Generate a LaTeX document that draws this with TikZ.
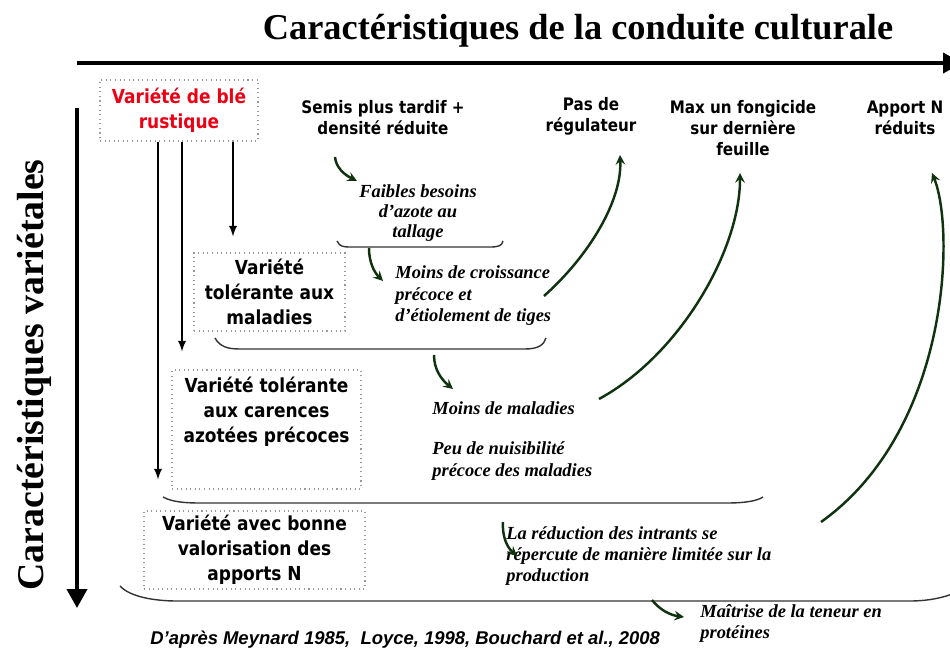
\documentclass[tikz,border=0pt]{standalone}
\usepackage{fontspec}
\setmainfont{Liberation Serif}
\newfontfamily\boxfont{DejaVu Sans}[FakeStretch=0.88]
\newfontfamily\reffont{Liberation Sans}
\usetikzlibrary{arrows, arrows.meta}
\definecolor{vertfonce}{RGB}{15,50,15}
\definecolor{rougeble}{RGB}{235,0,20}
\tikzstyle{cadre} = [rectangle, draw=gray!80, dotted, line width=0.6pt, inner sep=0pt]
\tikzstyle{variete} = [align=center, font=\boxfont\bfseries\fontsize{11}{14.3}\selectfont]
\tikzstyle{conduite} = [align=center, inner sep=0pt, font=\boxfont\bfseries\fontsize{9.8}{12}\selectfont]
\tikzstyle{effet} = [align=left, inner sep=0pt, font=\bfseries\itshape\fontsize{10.5}{12.2}\selectfont]
\tikzstyle{axe} = [line width=2.3pt, -{Triangle[length=0.38cm,width=0.4cm]}]
\tikzstyle{descente} = [line width=1.1pt, ->, >=latex]
\tikzstyle{fleche} = [line width=1.4pt, draw=vertfonce, ->, >=stealth]
\tikzstyle{accolade} = [line width=0.8pt, draw=black!80]

\begin{document}
\begin{tikzpicture}[x=0.02cm, y=-0.02cm]
    \useasboundingbox (0,0) rectangle (950,651);

    % axes
    \node (titre) [font=\bfseries\fontsize{20.7}{24}\selectfont, anchor=base] at (578,40) {Caractéristiques de la conduite culturale};
    \node (vtitre) [font=\bfseries\fontsize{21.5}{24}\selectfont, rotate=90, anchor=base] at (43,375) {Caractéristiques variétales};
    \coordinate (hdeb) at (77,63);
    \coordinate (hfin) at (962,63);
    \coordinate (vdeb) at (77,108);
    \coordinate (vfin) at (77,608);
    \draw [axe] (hdeb) -- (hfin);
    \draw [axe] (vdeb) -- (vfin);

    % varietes
    \node (rustique) [cadre, variete, text=rougeble, minimum width=3.16cm, minimum height=1.22cm] at (179,110.5) {Variété de blé\\rustique};
    \node (maladies) [cadre, variete, minimum width=3.02cm, minimum height=1.56cm] at (269.5,292) {Variété\\tolérante aux\\maladies};
    \node (carences) [cadre, minimum width=3.78cm, minimum height=2.38cm] at (266.5,429.5) {};
    \node (carencestxt) [variete, inner sep=0pt, anchor=north] at ([shift={(0,7)}]carences.north) {Variété tolérante\\aux carences\\azotées précoces};
    \node (valorisation) [cadre, variete, minimum width=4.42cm, minimum height=1.56cm] at (254.5,550) {Variété avec bonne\\valorisation des\\apports N};

    \draw [descente] ([shift={(54,0)}]rustique.south) -- ([shift={(-36.5,-16)}]maladies.north);
    \draw [descente] ([shift={(3,0)}]rustique.south) -- ([shift={(-84.5,-18)}]carences.north);
    \draw [descente] ([shift={(-21,0)}]rustique.south) -- ([shift={(-96.5,-31)}]valorisation.north);

    % conduite
    \node (semis) [conduite] at (383,117.5) {Semis plus tardif +\\densité réduite};
    \node (regulateur) [conduite] at (591,116.5) {Pas de\\régulateur};
    \node (fongicide) [conduite] at (743,128) {Max un fongicide\\sur dernière\\feuille};
    \node (apport) [conduite] at (905,117.5) {Apport N\\réduits};

    % effets
    \node (besoins) [effet, align=center, font=\bfseries\itshape\fontsize{10.5}{11.2}\selectfont] at (418,213) {Faibles besoins\\d’azote au\\tallage};
    \node (croissance) [effet, anchor=west] at (395,296) {Moins de croissance\\précoce et\\d’étiolement de tiges};
    \node (moinsmal) [effet, anchor=west] at (432,408) {Moins de maladies};
    \node (nuisibilite) [effet, anchor=west] at (432,461) {Peu de nuisibilité\\précoce des maladies};
    \node (intrants) [effet, anchor=west] at (506,556) {La réduction des intrants se\\répercute de manière limitée sur la\\production};
    \node (proteines) [effet, anchor=west] at (700,623.5) {Maîtrise de la teneur en\\protéines};
    \node (source) [font=\reffont\bfseries\itshape\fontsize{10.5}{12}\selectfont, anchor=west, inner sep=0pt] at (150,640) {D’après Meynard 1985,~ Loyce, 1998, Bouchard et al., 2008};

    % accolades
    \draw [accolade] (337,241) .. controls (340,247) and (343,247) .. (352,247) -- (490,247) .. controls (498,247) and (502,246) .. (503,241);
    \draw [accolade] (215,338) .. controls (220,347) and (228,349) .. (240,349) -- (525,349) .. controls (538,349) and (544,345) .. (546,338);
    \draw [accolade] (163,497) .. controls (172,502) and (185,503) .. (200,503) -- (727,503) .. controls (745,503) and (757,501) .. (763,497);
    \draw [accolade] (120,586) .. controls (130,597) and (155,601) .. (177,601) -- (910,601) .. controls (930,601) and (945,597) .. (955,593);

    % fleches
    \coordinate (semisbas) at (335,157);
    \coordinate (besoinshaut) at (357,181);
    \coordinate (besoinsbas) at (369,248);
    \coordinate (croissancehaut) at (383,281);
    \coordinate (croissancebas) at (434,355);
    \coordinate (moinsmalhaut) at (453,389);
    \coordinate (intrantshaut) at (503,522);
    \coordinate (intrantsfin) at (517,556);
    \coordinate (proteineshaut) at (652,600);
    \coordinate (proteinesfin) at (684,617);
    \coordinate (tigesfin) at (544,296);
    \coordinate (regulateurbas) at (620,155);
    \coordinate (moinsmalfin) at (599,399);
    \coordinate (fongicidebas) at (740,173);
    \coordinate (intrantsdroite) at (821,522);
    \coordinate (apportbas) at (932,173);

    \draw [fleche] (semisbas) .. controls (336,168) and (345,175) .. (besoinshaut);
    \draw [fleche] (besoinsbas) .. controls (369,262) and (374,272) .. (croissancehaut);
    \draw [fleche] (croissancebas) .. controls (434,370) and (442,380) .. (moinsmalhaut);
    \draw [fleche] (intrantshaut) .. controls (502,538) and (508,548) .. (intrantsfin);
    \draw [fleche] (proteineshaut) .. controls (660,610) and (670,615) .. (proteinesfin);
    \draw [fleche] (tigesfin) .. controls (590,255) and (622,200) .. (regulateurbas);
    \draw [fleche] (moinsmalfin) .. controls (680,355) and (740,250) .. (fongicidebas);
    \draw [fleche] (intrantsdroite) .. controls (950,430) and (955,230) .. (apportbas);

\end{tikzpicture}
\end{document}
